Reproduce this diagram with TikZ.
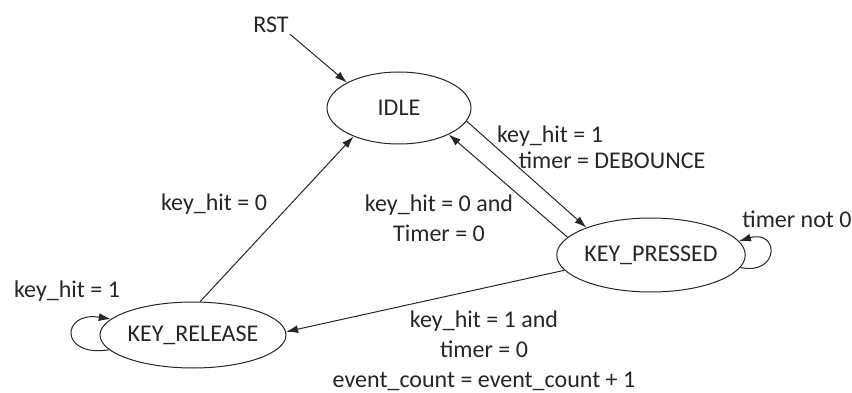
\documentclass[tikz,border=0pt]{standalone}
\usepackage{fontspec}
\setmainfont{Carlito}
\usetikzlibrary{shapes.geometric,arrows.meta}

\begin{document}
\begin{tikzpicture}
[
	x=1pt, y=-1pt,
	>={Latex[length=12pt,width=8pt]},
	every node/.style={text=black!85,font=\fontsize{24}{30}\selectfont},
	state/.style={ellipse,draw=black!85,line width=1pt,inner sep=0pt},
	lbl/.style={inner sep=1pt,align=center},
	trans/.style={->,draw=black!85,line width=1pt}
]

	\useasboundingbox (0,0) rectangle (852,393);

	% states
	\node[state,minimum width=144pt,minimum height=72pt] (idle) at (399,108) {IDLE};
	\node[state,minimum width=182pt,minimum height=74pt] (kp) at (651,255) {KEY\_PRESSED};
	\node[state,minimum width=186pt,minimum height=66pt] (kr) at (193,335) {KEY\_RELEASE};

	% reset
	\node[lbl] (rst) at (271,25) {RST};
	\draw[trans] (rst.south east) -- (idle.154);

	% transitions
	\draw[trans] (idle.-11) -- (kp.157);
	\draw[trans] (kp.168) -- (idle.-28);
	\draw[trans] (kr.78) -- (idle.-148);
	\draw[trans] (kp.190) -- (kr.2);
	\draw[trans] (kp.-8) .. controls +(40,8) and +(40,-12) .. (kp.9);
	\draw[trans] (kr.190) .. controls +(-50,8) and +(-50,-8) .. (kr.169);

	% labels
	\node[lbl] (hitone) at (550,136) {key\_hit = 1};
	\node[lbl] (debounce) at (612,160) {timer = DEBOUNCE};
	\node[lbl] (hitzero) at (439,218) {key\_hit = 0 and\\Timer = 0};
	\node[lbl] (notzero) at (797,219) {timer not 0};
	\node[lbl] (release) at (214,204) {key\_hit = 0};
	\node[lbl] (hold) at (67,291) {key\_hit = 1};
	\node[lbl] (count) at (484,351) {key\_hit = 1 and\\timer = 0\\event\_count = event\_count + 1};

\end{tikzpicture}
\end{document}
